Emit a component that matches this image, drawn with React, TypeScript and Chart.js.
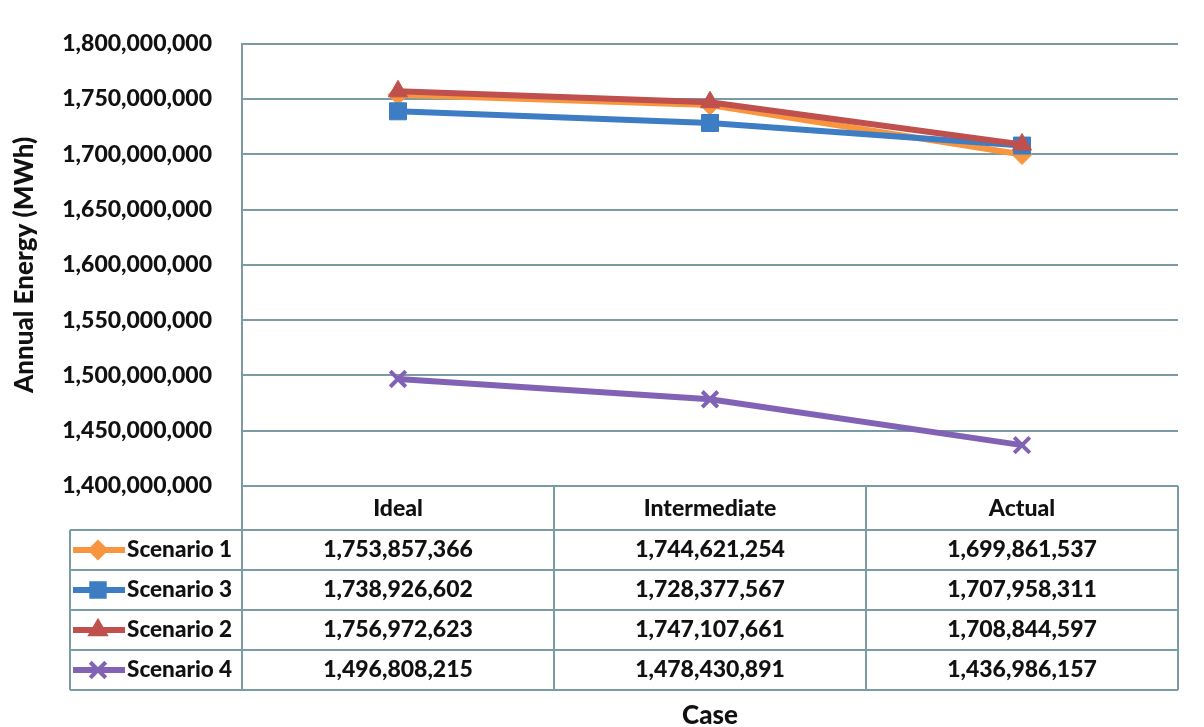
import React, { useEffect, useRef } from "react";
import { Chart, registerables } from "chart.js";
import { drawPoint } from "chart.js/helpers";

Chart.register(...registerables);

const categories = ["Ideal", "Intermediate", "Actual"];
const seriesNames = ["Scenario 1", "Scenario 3", "Scenario 2", "Scenario 4"];
const scenario1 = [1753857366, 1744621254, 1699861537];
const scenario3 = [1738926602, 1728377567, 1707958311];
const scenario2 = [1756972623, 1747107661, 1708844597];
const scenario4 = [1496808215, 1478430891, 1436986157];
const yMin = 1400000000;
const yMax = 1800000000;
const yStep = 50000000;

const seriesValues = [scenario1, scenario3, scenario2, scenario4];
const colors = ["#F7963F", "#3C7DC4", "#C0504D", "#8262B4"];
const styles = ["rectRot", "rect", "triangle", "crossRot"];
const radii = [10, 12, 11, 11];
const drawOrder = [4, 3, 2, 1];

const FONT = "Lato, 'Open Sans', sans-serif";
const GRID = "#7A9BA3";

const fmt = (v: number) => v.toLocaleString("en-US");

const tablePlugin = {
  id: "dataTable",
  afterDraw(chart: any) {
    const ctx = chart.ctx as CanvasRenderingContext2D;
    const area = chart.chartArea;
    const xs = chart.scales.x;
    const left = area.left;
    const right = area.right;
    const colW = (right - left) / categories.length;
    const top = area.bottom;
    const headerH = 44;
    const rowH = 40;
    const legendLeft = 70;
    const bottom = top + headerH + rowH * seriesNames.length;

    ctx.save();
    ctx.strokeStyle = GRID;
    ctx.lineWidth = 2;
    ctx.beginPath();
    ctx.moveTo(left, top);
    ctx.lineTo(right, top);
    for (let r = 0; r <= seriesNames.length; r++) {
      const y = top + headerH + r * rowH;
      ctx.moveTo(legendLeft, y);
      ctx.lineTo(right, y);
    }
    for (let c = 0; c <= categories.length; c++) {
      const x = left + c * colW;
      ctx.moveTo(x, top);
      ctx.lineTo(x, bottom);
    }
    ctx.moveTo(legendLeft, top + headerH);
    ctx.lineTo(legendLeft, bottom);
    ctx.stroke();

    ctx.fillStyle = "#111";
    ctx.font = `900 23px ${FONT}`;
    ctx.textAlign = "center";
    ctx.textBaseline = "middle";
    categories.forEach((c, i) => {
      ctx.fillText(c, xs.getPixelForValue(i), top + headerH / 2 + 1);
    });
    seriesValues.forEach((vals, r) => {
      const yc = top + headerH + r * rowH + rowH / 2;
      vals.forEach((v, i) => {
        ctx.fillText(fmt(v), xs.getPixelForValue(i), yc);
      });
      ctx.strokeStyle = colors[r];
      ctx.lineWidth = 6;
      ctx.beginPath();
      ctx.moveTo(legendLeft + 3, yc);
      ctx.lineTo(legendLeft + 55, yc);
      ctx.stroke();
      ctx.fillStyle = colors[r];
      ctx.lineWidth = r === 3 ? 4 : 3;
      drawPoint(ctx, { pointStyle: styles[r], radius: radii[r] * (r === 3 ? 1 : 0.85), borderWidth: r === 3 ? 4 : 3, rotation: 0 } as any, legendLeft + 28, yc);
      ctx.fillStyle = "#111";
      ctx.textAlign = "left";
      ctx.font = `900 22.5px ${FONT}`;
      ctx.fillText(seriesNames[r], legendLeft + 57, yc);
      ctx.font = `900 23px ${FONT}`;
      ctx.textAlign = "center";
    });

    ctx.font = `900 26px ${FONT}`;
    ctx.fillText("Case", (left + right) / 2, bottom + 26);
    ctx.restore();
  },
};

export default function App() {
  const ref = useRef<HTMLCanvasElement>(null);
  useEffect(() => {
    document.body.style.margin = "0";
    const chart = new Chart(ref.current!, {
      type: "line",
      data: {
        labels: categories,
        datasets: seriesValues.map((vals, i) => ({
          label: seriesNames[i],
          data: vals,
          borderColor: colors[i],
          backgroundColor: colors[i],
          borderWidth: 6,
          pointStyle: styles[i] as any,
          pointRadius: radii[i],
          pointBorderWidth: i === 3 ? 4 : 1,
          pointBorderColor: colors[i],
          pointBackgroundColor: colors[i],
          order: drawOrder[i],
          tension: 0,
        })),
      },
      options: {
        responsive: false,
        maintainAspectRatio: false,
        animation: false,
        layout: { padding: { top: 42, right: 26, bottom: 241, left: 0 } },
        plugins: { legend: { display: false }, tooltip: { enabled: false } },
        scales: {
          x: {
            display: false,
            offset: true,
          },
          y: {
            min: yMin,
            max: yMax,
            afterFit: (s: any) => {
              s.width = 242;
            },
            ticks: {
              stepSize: yStep,
              padding: 30,
              color: "#111",
              font: { family: FONT, size: 23, weight: "900" as any },
              callback: (v: any) => fmt(Number(v)),
            },
            grid: { color: GRID, lineWidth: 2, drawTicks: false },
            border: { display: true, color: GRID, width: 2 },
            title: {
              display: true,
              text: "Annual Energy (MWh)",
              color: "#111",
              font: { family: FONT, size: 26, weight: "900" as any },
              padding: { top: 9, bottom: 0 },
            },
          },
        },
      },
      plugins: [tablePlugin],
    });
    return () => chart.destroy();
  }, []);
  return (
    <div style={{ position: "fixed", left: 0, top: 0, width: 1204, height: 727, background: "#fff" }}>
      <canvas ref={ref} width={1204} height={727} />
    </div>
  );
}
